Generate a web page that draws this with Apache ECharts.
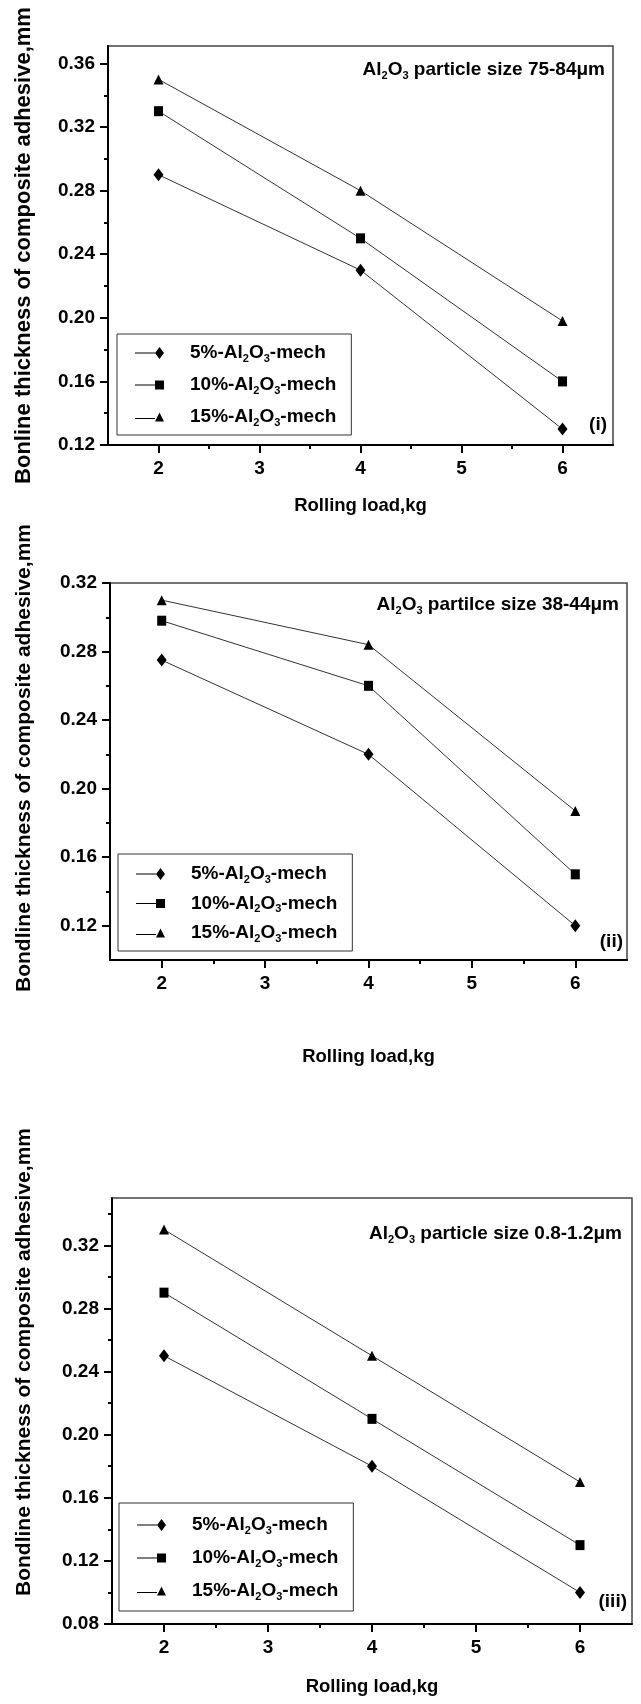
<!DOCTYPE html>
<html><head><meta charset="utf-8">
<script src="https://cdn.jsdelivr.net/npm/echarts@6/dist/echarts.min.js"></script>
<style>html,body{margin:0;padding:0;background:#fff}#c{width:641px;height:1704px}</style>
</head><body><div id="c"></div>
<script>
// ---- data ----
const loads = [2, 4, 6];
const seriesNames = ['5%-Al2O3-mech', '10%-Al2O3-mech', '15%-Al2O3-mech'];
const p1_5  = [0.29, 0.23, 0.13];
const p1_10 = [0.33, 0.25, 0.16];
const p1_15 = [0.35, 0.28, 0.198];
const p2_5  = [0.275, 0.22, 0.12];
const p2_10 = [0.298, 0.26, 0.15];
const p2_15 = [0.31, 0.284, 0.187];
const p3_5  = [0.25, 0.18, 0.10];
const p3_10 = [0.29, 0.21, 0.13];
const p3_15 = [0.33, 0.25, 0.17];
const xMajor = [2, 3, 4, 5, 6];
const xMinor = [2.5, 3.5, 4.5, 5.5];
const y1Major = [0.12, 0.16, 0.20, 0.24, 0.28, 0.32, 0.36];
const y1Minor = [0.14, 0.18, 0.22, 0.26, 0.30, 0.34];
const y2Major = [0.12, 0.16, 0.20, 0.24, 0.28, 0.32];
const y2Minor = [0.14, 0.18, 0.22, 0.26, 0.30];
const y3Major = [0.08, 0.12, 0.16, 0.20, 0.24, 0.28, 0.32];
const y3Minor = [0.10, 0.14, 0.18, 0.22, 0.26, 0.30, 0.34];
const panelTitles = ['Al{s|2}O{s|3} particle size 75-84μm', 'Al{s|2}O{s|3} partilce size 38-44μm', 'Al{s|2}O{s|3} particle size 0.8-1.2μm'];
const panelTags = ['(i)', '(ii)', '(iii)'];
const yNames = ['Bonline thickness of composite adhesive,mm', 'Bondline thickness of composite adhesive,mm', 'Bondline thickness of composite adhesive,mm'];
const xName = 'Rolling load,kg';

// ---- styling / layout ----
const FONT = '"Liberation Sans", Arial, sans-serif';
const symbols = ['diamond', 'rect', 'triangle'];
const symbolSizes = [[10, 13], [9, 10], [10, 10]];
const legendIcons = [
  'path://M0,5.5L20,5.5L20,6.5L0,6.5ZM24.5,0L29,6L24.5,12L20,6Z',
  'path://M0,4L20,4L20,5L0,5ZM20,0L29,0L29,9L20,9Z',
  'path://M0,5.5L20,5.5L20,6.5L0,6.5ZM24.5,0L29,9L20,9Z'
];
const subRich = { s: { fontSize: 11, fontWeight: 'bold', lineHeight: 5, verticalAlign: 'bottom', fontFamily: FONT, color: '#000' } };

const panels = [
  { grid: { left: 108, top: 46, width: 505, height: 399 }, yMin: 0.12, yMax: 0.371, yMajor: y1Major, yMinor: y1Minor,
    data: [p1_5, p1_10, p1_15], yNameSize: 22, yNameGap: 73, yNamePad: [0, 0, 0, 0], xNameGap: 51,
    legend: { left: 117, top: 334, itemGap: 10, padding: [8, 15, 7, 18] },
    title: { right: 36, top: 59 }, tag: { right: 34, top: 414 } },
  { grid: { left: 110, top: 583, width: 517, height: 377 }, yMin: 0.10, yMax: 0.32, yMajor: y2Major, yMinor: y2Minor,
    data: [p2_5, p2_10, p2_15], yNameSize: 21, yNameGap: 75, yNamePad: [0, 0, 0, 27], xNameGap: 87,
    legend: { left: 118, top: 854, itemGap: 7.5, padding: [9, 15, 7, 18] },
    title: { right: 22, top: 594 }, tag: { right: 18, top: 931 } },
  { grid: { left: 112, top: 1198, width: 520, height: 426 }, yMin: 0.08, yMax: 0.35, yMajor: y3Major, yMinor: y3Minor,
    data: [p3_5, p3_10, p3_15], yNameSize: 21, yNameGap: 77, yNamePad: [0, 0, 0, 98], xNameGap: 53,
    legend: { left: 119, top: 1503, itemGap: 11, padding: [11, 15, 9, 18] },
    title: { right: 19, top: 1223 }, tag: { right: 14, top: 1591 } }
];

const grid = [], xAxis = [], yAxis = [], series = [], legend = [], title = [];
const blackLine = { color: '#000', width: 2 };
panels.forEach((p, i) => {
  const g = 2 * i;
  grid.push(Object.assign({ show: true, borderColor: '#444', borderWidth: 1.5, backgroundColor: 'transparent', containLabel: false, outerBoundsMode: 'none' }, p.grid));
  grid.push(Object.assign({ show: false, containLabel: false, outerBoundsMode: 'none' }, p.grid));
  // main axes
  xAxis.push({ type: 'value', gridIndex: g, min: 1.5, max: 6.5, position: 'bottom',
    axisLine: { show: true, onZero: false, lineStyle: blackLine },
    axisTick: { show: true, customValues: xMajor, length: 8, lineStyle: blackLine },
    axisLabel: { customValues: xMajor, margin: 14, fontSize: 19, fontWeight: 'bold', color: '#000', fontFamily: FONT },
    splitLine: { show: false },
    name: xName, nameLocation: 'middle', nameGap: p.xNameGap,
    nameTextStyle: { fontSize: 18.5, fontWeight: 'bold', color: '#000', fontFamily: FONT } });
  yAxis.push({ type: 'value', gridIndex: g, min: p.yMin, max: p.yMax, position: 'left',
    axisLine: { show: true, onZero: false, lineStyle: blackLine },
    axisTick: { show: true, customValues: p.yMajor, length: 8, lineStyle: blackLine },
    axisLabel: { customValues: p.yMajor, margin: 13, fontSize: 19, fontWeight: 'bold', color: '#000', fontFamily: FONT,
      formatter: v => v.toFixed(2) },
    splitLine: { show: false },
    name: yNames[i], nameLocation: 'middle', nameGap: p.yNameGap, nameRotate: 90,
    nameTextStyle: { fontSize: p.yNameSize, fontWeight: 'bold', color: '#000', fontFamily: FONT, padding: p.yNamePad } });
  // minor tick axes (overlaid grid)
  xAxis.push({ type: 'value', gridIndex: g + 1, min: 1.5, max: 6.5, position: 'bottom',
    axisLine: { show: false }, axisTick: { show: true, customValues: xMinor, length: 4, lineStyle: blackLine },
    axisLabel: { show: false }, splitLine: { show: false } });
  yAxis.push({ type: 'value', gridIndex: g + 1, min: p.yMin, max: p.yMax, position: 'left',
    axisLine: { show: false }, axisTick: { show: true, customValues: p.yMinor, length: 4, lineStyle: blackLine },
    axisLabel: { show: false }, splitLine: { show: false } });
  p.data.forEach((arr, k) => {
    series.push({ type: 'line', name: seriesNames[k], xAxisIndex: g, yAxisIndex: g,
      data: loads.map((x, j) => [x, arr[j]]),
      symbol: symbols[k], symbolSize: symbolSizes[k],
      lineStyle: { color: '#333', width: 1 }, itemStyle: { color: '#000' },
      emphasis: { disabled: true } });
  });
  legend.push({ orient: 'vertical', left: p.legend.left, top: p.legend.top, itemGap: p.legend.itemGap,
    padding: p.legend.padding, itemWidth: 29, itemHeight: 12, borderColor: '#333', borderWidth: 1,
    selectedMode: false, symbolKeepAspect: true,
    data: seriesNames.map((n, k) => ({ name: n, icon: legendIcons[k] })),
    formatter: n => n.replace('Al2O3', 'Al{s|2}O{s|3}'),
    textStyle: { fontSize: 19, fontWeight: 'bold', color: '#000', fontFamily: FONT, lineHeight: 22,
      padding: [0, 0, 0, 21], rich: subRich } });
  title.push({ text: panelTitles[i], right: p.title.right, top: p.title.top, padding: 0,
    textStyle: { fontSize: 19, fontWeight: 'bold', color: '#000', fontFamily: FONT, lineHeight: 22, rich: subRich } });
  title.push({ text: panelTags[i], right: p.tag.right, top: p.tag.top, padding: 0,
    textStyle: { fontSize: 19, fontWeight: 'bold', color: '#000', fontFamily: FONT, lineHeight: 22 } });
});

const chart = echarts.init(document.getElementById('c'), null, { renderer: 'canvas' });
chart.setOption({ animation: false, backgroundColor: '#fff', grid, xAxis, yAxis, series, legend, title });
</script>
</body></html>
